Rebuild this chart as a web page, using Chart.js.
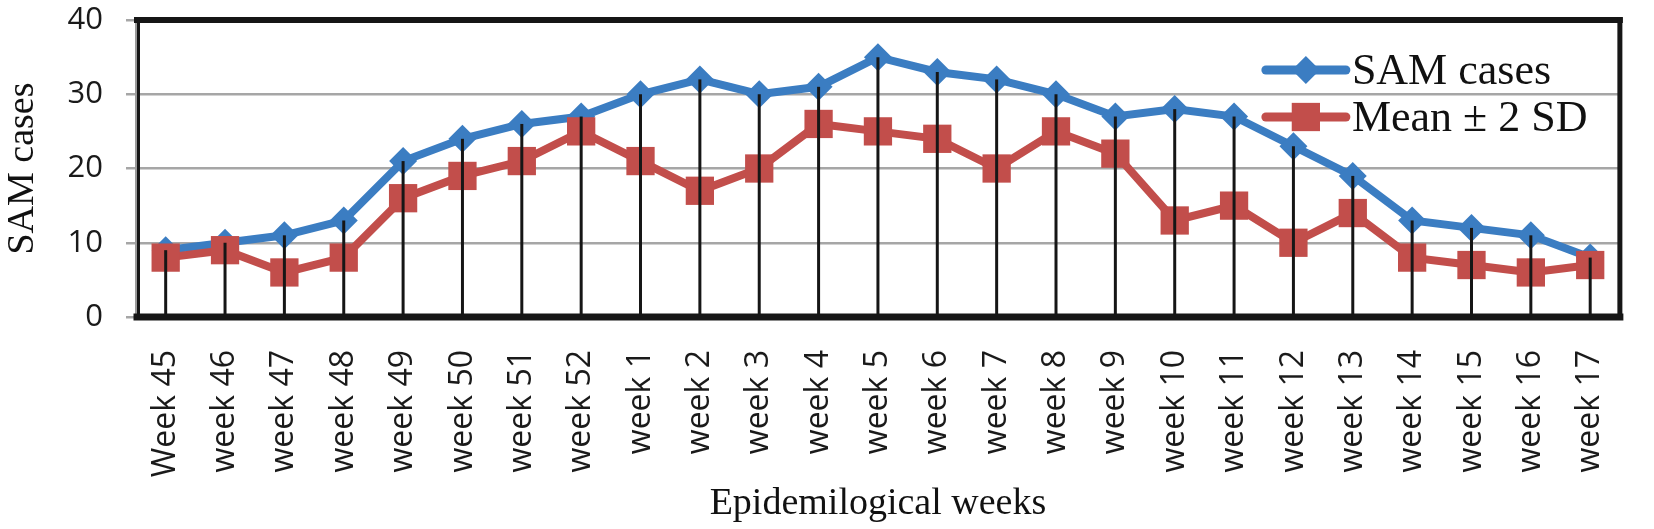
<!DOCTYPE html>
<html>
<head>
<meta charset="utf-8">
<script src="https://cdn.jsdelivr.net/npm/chart.js@4.4.0/dist/chart.umd.min.js"></script>
<style>
  html, body { margin: 0; padding: 0; background: #fff; }
  #wrap { width: 1654px; height: 529px; position: relative; }
</style>
</head>
<body>
<div id="wrap"><canvas id="samChart"></canvas></div>
<script>
// epidemiological weeks on the x axis
const weeks = ['Week 45', 'week 46', 'week 47', 'week 48', 'week 49', 'week 50', 'week 51', 'week 52',
  'week 1', 'week 2', 'week 3', 'week 4', 'week 5', 'week 6', 'week 7', 'week 8', 'week 9',
  'week 10', 'week 11', 'week 12', 'week 13', 'week 14', 'week 15', 'week 16', 'week 17'];

// values
const samCases = [9, 10, 11, 13, 21, 24, 26, 27, 30, 32, 30, 31, 35, 33, 32, 30, 27, 28, 27, 23, 19, 13, 12, 11, 8];
const meanPlus2SD = [8, 9, 6, 8, 16, 19, 21, 25, 21, 17, 20, 26, 25, 24, 20, 25, 22, 13, 15, 10, 14, 8, 7, 6, 7];

const yTicks = [0, 10, 20, 30, 40];

const BLUE = '#3B7DC2';
const RED = '#C24E4B';

// black drop lines from the highest point down to the x axis
const dropLines = {
  id: 'dropLines',
  afterDatasetsDraw(chart) {
    const { ctx, chartArea, scales } = chart;
    ctx.save();
    ctx.strokeStyle = '#161616';
    ctx.lineWidth = 3;
    weeks.forEach((w, i) => {
      const top = Math.max(...chart.data.datasets.map(d => d.data[i]));
      const x = scales.x.getPixelForValue(i);
      ctx.beginPath();
      ctx.moveTo(x, scales.y.getPixelForValue(top));
      ctx.lineTo(x, chartArea.bottom);
      ctx.stroke();
    });
    ctx.restore();
  }
};

// thick frame round the plot area, then the legend inside it
const frameAndLegend = {
  id: 'frameAndLegend',
  afterDraw(chart) {
    const { ctx, chartArea: a } = chart;
    ctx.save();
    ctx.strokeStyle = '#161616';
    ctx.lineCap = 'square';
    const edge = (w, x1, y1, x2, y2) => {
      ctx.lineWidth = w;
      ctx.beginPath(); ctx.moveTo(x1, y1); ctx.lineTo(x2, y2); ctx.stroke();
    };
    edge(6, a.left + 1, a.top, a.right, a.top);
    edge(5, a.right, a.top, a.right, a.bottom);
    edge(7, a.left + 1, a.bottom, a.right, a.bottom);
    edge(3, a.left + 2.5, a.top, a.left + 2.5, a.bottom);

    const x0 = a.right - 354;
    chart.data.datasets.forEach((ds, i) => {
      const y = a.top + 50 + i * 47;
      ctx.strokeStyle = ds.borderColor;
      ctx.fillStyle = ds.borderColor;
      ctx.lineWidth = 9;
      ctx.lineCap = 'round';
      ctx.beginPath(); ctx.moveTo(x0, y); ctx.lineTo(x0 + 80, y); ctx.stroke();
      Chart.helpers.drawPoint(ctx, { pointStyle: ds.pointStyle, radius: ds.pointRadius, borderWidth: 0, rotation: 0 }, x0 + 40, y);
      ctx.fillStyle = '#111';
      ctx.font = '44px "Liberation Serif", "Times New Roman", serif';
      ctx.textBaseline = 'middle';
      ctx.textAlign = 'left';
      ctx.fillText(ds.label, x0 + 86, y + 2);
    });
    ctx.restore();
  }
};

new Chart(document.getElementById('samChart'), {
  type: 'line',
  data: {
    labels: weeks,
    datasets: [
      {
        label: 'SAM cases',
        data: samCases,
        borderColor: BLUE,
        backgroundColor: BLUE,
        borderWidth: 8,
        pointStyle: 'rectRot',
        pointRadius: 14,
        pointBorderWidth: 0,
        pointBackgroundColor: BLUE,
        tension: 0,
        order: 2
      },
      {
        label: 'Mean ± 2 SD',
        data: meanPlus2SD,
        borderColor: RED,
        backgroundColor: RED,
        borderWidth: 8,
        pointStyle: 'rect',
        pointRadius: 20,
        pointBorderWidth: 0,
        pointBackgroundColor: RED,
        tension: 0,
        order: 1
      }
    ]
  },
  options: {
    responsive: true,
    maintainAspectRatio: false,
    animation: false,
    devicePixelRatio: 1,
    layout: { padding: { top: 0, right: 8, left: 0, bottom: 0 } },
    plugins: {
      legend: { display: false },
      tooltip: { enabled: false }
    },
    scales: {
      x: {
        offset: true,
        afterFit(scale) { scale.height = 212; },
        grid: { display: false, offset: true },
        border: { display: false },
        ticks: {
          minRotation: 90,
          maxRotation: 90,
          autoSkip: false,
          padding: 25,
          color: '#1a1a1a',
          font: { family: '"Open Sans", sans-serif', size: 32 }
        },
        title: {
          display: true,
          text: 'Epidemilogical weeks',
          color: '#111',
          padding: { top: 0, bottom: 2 },
          font: { family: '"Liberation Serif", "Times New Roman", serif', size: 38 }
        }
      },
      y: {
        min: 0,
        max: 40,
        afterFit(scale) {
          scale.width = 136;
          scale.paddingTop = 20;
          scale.paddingBottom = 0;
        },
        afterBuildTicks(scale) { scale.ticks = yTicks.map(v => ({ value: v })); },
        grid: { color: '#A6A6A6', lineWidth: 2.5, tickLength: 10, drawTicks: true },
        border: { color: '#9A9A9A', width: 2 },
        ticks: {
          padding: 23,
          color: '#1a1a1a',
          font: { family: '"Open Sans", sans-serif', size: 31 }
        },
        title: {
          display: true,
          text: 'SAM cases',
          color: '#111',
          padding: { top: 0, bottom: 0 },
          font: { family: '"Liberation Serif", "Times New Roman", serif', size: 38 }
        }
      }
    }
  },
  plugins: [dropLines, frameAndLegend]
});
</script>
</body>
</html>
